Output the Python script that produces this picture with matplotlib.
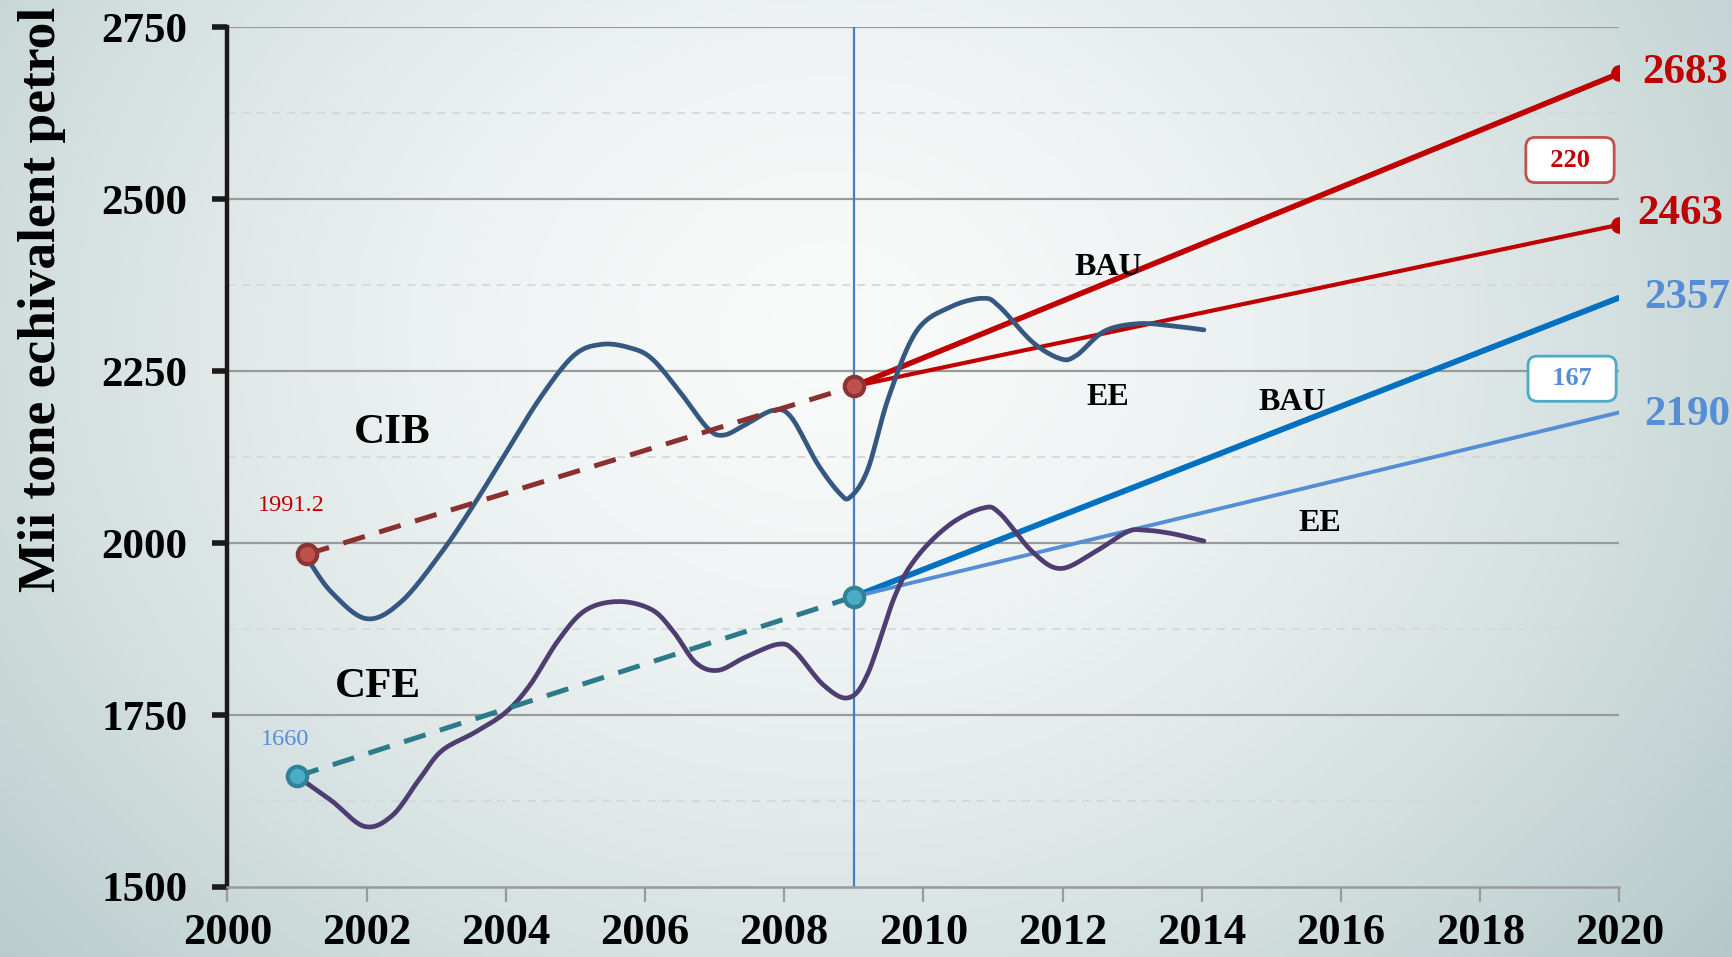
import numpy as np
import matplotlib
matplotlib.use("Agg")
import matplotlib.pyplot as plt

plt.rcParams['font.family'] = ['Liberation Serif', 'DejaVu Serif']

# ==================
# data
# ==================
cib_years = [2001.17, 2001.5, 2002.0, 2002.5, 2003.08, 2003.56, 2004.0, 2004.5,
             2004.98, 2005.38, 2005.78, 2006.1, 2006.5, 2006.9, 2007.13, 2007.44,
             2007.84, 2008.1, 2008.48, 2008.8, 2008.95, 2009.2, 2009.5, 2009.9,
             2010.38, 2010.86, 2011.1, 2011.57, 2011.97, 2012.2, 2012.6, 2013.08,
             2013.56, 2014.03]
cib_vals = [1974, 1928, 1890, 1915, 1987, 2059, 2131, 2212,
            2273, 2289, 2284, 2268, 2220, 2167, 2157, 2172,
            2193, 2183, 2115, 2072, 2067, 2107, 2212, 2308,
            2343, 2356, 2343, 2292, 2268, 2273, 2308, 2319,
            2316, 2310]

cfe_years = [2001.0, 2001.5, 2001.97, 2002.37, 2002.76, 2003.08, 2003.56, 2004.0,
             2004.35, 2004.75, 2005.14, 2005.62, 2006.1, 2006.41, 2006.73, 2007.05,
             2007.44, 2007.92, 2008.16, 2008.56, 2008.92, 2009.2, 2009.59, 2009.9,
             2010.38, 2010.86, 2011.1, 2011.57, 2011.97, 2012.46, 2012.92, 2013.16,
             2013.56, 2014.03]
cfe_vals = [1661, 1625, 1588, 1604, 1657, 1698, 1725, 1754,
            1794, 1858, 1902, 1915, 1903, 1871, 1826, 1815,
            1834, 1853, 1842, 1794, 1775, 1810, 1923, 1979,
            2027, 2051, 2043, 1987, 1963, 1987, 2016, 2019,
            2014, 2003]

# trend from 2001 to the 2009 base year
cib_trend_years = [2001.15, 2009]
cib_trend_vals = [1984, 2228]
cfe_trend_years = [2001.0, 2009]
cfe_trend_vals = [1661, 1922]

# scenarios 2009 -> 2020
proj_years = [2009, 2020]
cib_bau = [2228, 2683]
cib_ee = [2228, 2463]
cfe_bau = [1922, 2357]
cfe_ee = [1922, 2190]

cib_gap = 220
cfe_gap = 167
cib_start_label = '1991.2'
cfe_start_label = '1660'


def smooth_line(xs, ys, n=12):
    # catmull-rom through the read points, like the "smoothed line" option
    # (scaled so x and y weigh about the same on screen)
    x = np.asarray(xs, float) / 20.0
    y = np.asarray(ys, float) / 1250.0 * (778 / 1260)
    p = np.column_stack([x, y])
    p = np.vstack([p[0], p, p[-1]])
    out = []
    t = np.linspace(0, 1, n, endpoint=False)[:, None]
    for i in range(1, len(p) - 2):
        p0, p1, p2, p3 = p[i - 1], p[i], p[i + 1], p[i + 2]
        seg = 0.5 * ((2 * p1) + (-p0 + p2) * t + (2 * p0 - 5 * p1 + 4 * p2 - p3) * t ** 2
                     + (-p0 + 3 * p1 - 3 * p2 + p3) * t ** 3)
        out.append(seg)
    out.append(p[-2][None, :])
    out = np.vstack(out)
    return out[:, 0] * 20.0, out[:, 1] * 1250.0 / (778 / 1260)


# ==================
# figure + gradient background
# ==================
fig = plt.figure(figsize=(17.32, 9.57), dpi=100)
bg = fig.add_axes([0, 0, 1, 1], zorder=-10)
ny, nx = 240, 430
yy, xx = np.mgrid[0:1:ny * 1j, 0:1:nx * 1j]
d = np.sqrt(((xx - 0.48) / 0.62) ** 2 + ((yy - 0.35) / 0.95) ** 2)
t = np.clip(d, 0, 1.2) ** 1.6
c_in = np.array([0.975, 0.98, 0.98])
c_out = np.array([0.70, 0.78, 0.78])
img = c_in + (c_out - c_in) * t[..., None] / 1.2 ** 1.6 * 1.15
bg.imshow(np.clip(img, 0, 1), aspect='auto', extent=[0, 1, 0, 1], origin='upper')
bg.axis('off')

ax = fig.add_axes([0.1313, 0.0732, 0.8037, 0.8983])
ax.patch.set_alpha(0)

# gridlines
for v in [1750, 2000, 2250, 2500, 2750]:
    ax.axhline(v, color='#9a9a9a', lw=1.6, zorder=0)
for v in [1625, 1875, 2125, 2375, 2625]:
    ax.axhline(v, color='#d2d6d8', lw=1.2, ls=(0, (5, 4)), zorder=0)

# vertical marker for 2009
ax.axvline(2009, color='#4a7ebb', lw=1.6, zorder=1)

# scenario lines
ax.plot(proj_years, cib_bau, color='#c00000', lw=4.0, zorder=2,
        marker='o', ms=11, markevery=[1], solid_capstyle='butt')
ax.plot(proj_years, cib_ee, color='#c00000', lw=3.0, zorder=2,
        marker='o', ms=11, markevery=[1], solid_capstyle='butt')
ax.plot(proj_years, cfe_bau, color='#0070c0', lw=4.2, zorder=2, solid_capstyle='butt')
ax.plot(proj_years, cfe_ee, color='#558ed5', lw=2.8, zorder=2, solid_capstyle='butt')

# historic curves
sx, sy = smooth_line(cib_years, cib_vals)
ax.plot(sx, sy, color='#34587f', lw=3.4, zorder=3,
        solid_joinstyle='round', solid_capstyle='round')
sx, sy = smooth_line(cfe_years, cfe_vals)
ax.plot(sx, sy, color='#4e3d70', lw=3.4, zorder=3,
        solid_joinstyle='round', solid_capstyle='round')

# trend dashes + markers
ax.plot(cib_trend_years, cib_trend_vals, color='#8c2f2f', lw=3.6,
        ls=(0, (4.5, 3.0)), zorder=4)
ax.plot(cfe_trend_years, cfe_trend_vals, color='#2c7a8a', lw=3.6,
        ls=(0, (4.5, 3.0)), zorder=4)
ax.plot(cib_trend_years, cib_trend_vals, ls='none', marker='o', ms=14,
        mfc='#c0504d', mec='#8c3333', mew=3, zorder=5)
ax.plot(cfe_trend_years, cfe_trend_vals, ls='none', marker='o', ms=14,
        mfc='#4bacc6', mec='#2f8298', mew=3, zorder=5)

# ==================
# texts
# ==================
bold = dict(fontweight='bold', color='black', ha='center', va='center')
ax.text(2002.37, 2160, 'CIB', fontsize=31, **bold)
ax.text(2002.16, 1791, 'CFE', fontsize=31, **bold)
ax.text(2012.65, 2400, 'BAU', fontsize=23, **bold)
ax.text(2012.65, 2212, 'EE', fontsize=23, **bold)
ax.text(2015.3, 2204, 'BAU', fontsize=23, **bold)
ax.text(2015.7, 2029, 'EE', fontsize=23, **bold)

ax.text(2000.92, 2054, cib_start_label, fontsize=17.5, color='#c00000', ha='center', va='center')
ax.text(2000.83, 1715, cfe_start_label, fontsize=17.5, color='#558ed5', ha='center', va='center')

end_kw = dict(fontsize=31, fontweight='bold', ha='left', va='center', clip_on=False)
ax.text(2020.33, cib_bau[1], f'{cib_bau[1]}', color='#c00000', **end_kw)
ax.text(2020.25, 2478, f'{cib_ee[1]}', color='#c00000', **end_kw)
ax.text(2020.35, cfe_bau[1], f'{cfe_bau[1]}', color='#558ed5', **end_kw)
ax.text(2020.35, 2186, f'{cfe_ee[1]}', color='#558ed5', **end_kw)

ax.text(2019.29, 2557, f'  {cib_gap}  ', fontsize=19, fontweight='bold', color='#c00000',
        ha='center', va='center',
        bbox=dict(boxstyle='round,pad=0.42,rounding_size=0.35', fc='white',
                  ec='#c0504d', lw=2))
ax.text(2019.32, 2239, f'  {cfe_gap}  ', fontsize=19, fontweight='bold', color='#558ed5',
        ha='center', va='center',
        bbox=dict(boxstyle='round,pad=0.42,rounding_size=0.35', fc='white',
                  ec='#4bacc6', lw=2))

# ==================
# axes
# ==================
ax.set_xlim(2000, 2020)
ax.set_ylim(1500, 2750)
ax.set_xticks(range(2000, 2021, 2))
ax.set_yticks(range(1500, 2751, 250))
for s in ['top', 'right']:
    ax.spines[s].set_visible(False)
ax.spines['left'].set_color('#1a1a1a')
ax.spines['left'].set_linewidth(3.2)
ax.spines['bottom'].set_color('#9a9a9a')
ax.spines['bottom'].set_linewidth(1.8)
ax.tick_params(axis='y', direction='out', length=11, width=4, color='#1a1a1a',
               labelsize=31, pad=18)
ax.tick_params(axis='x', direction='out', length=11, width=1.6, color='#9a9a9a',
               labelsize=32, pad=8)
for lab in ax.get_xticklabels() + ax.get_yticklabels():
    lab.set_fontweight('bold')

ax.set_ylabel('Mii tone echivalent petrol', fontsize=38.5, fontweight='bold')
ax.yaxis.set_label_coords(-0.116, 0.683)

fig.savefig('out.png', dpi=100)
